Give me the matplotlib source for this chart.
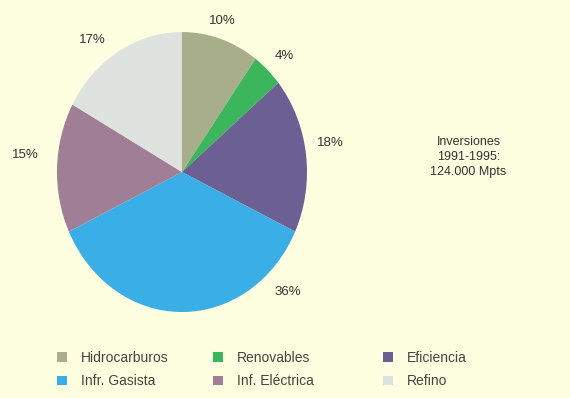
import matplotlib
matplotlib.use("Agg")
import matplotlib.pyplot as plt

plt.rcParams['font.family'] = ['Liberation Sans', 'DejaVu Sans']

categories = ["Hidrocarburos", "Renovables", "Eficiencia", "Infr. Gasista", "Inf. Eléctrica", "Refino"]
shares = [10, 4, 18, 36, 15, 17]
pct_labels = ["10%", "4%", "18%", "36%", "15%", "17%"]
colors = ["#a8ae8a", "#3cb65c", "#6c5f94", "#3aaee6", "#a07f96", "#dfe3e0"]
# where each percent label sits, relative to the pie (radius = 1)
label_pos = [(0.32, 1.08), (0.82, 0.83), (1.19, 0.21), (0.85, -0.86), (-1.25, 0.12), (-0.72, 0.94)]

bg = "#fefee0"
fig = plt.figure(figsize=(5.7, 3.98), dpi=100, facecolor=bg)
ax = fig.add_axes([0.1, 0.216, 0.4386, 0.7035])
ax.set_facecolor(bg)

wedges, _ = ax.pie(shares, colors=colors, startangle=90, counterclock=False,
                   radius=1, wedgeprops=dict(linewidth=0))
ax.set_aspect('auto')
ax.set_xlim(-1, 1)
ax.set_ylim(-1, 1)
ax.axis('off')

for txt, (lx, ly) in zip(pct_labels, label_pos):
    ax.text(lx, ly, txt, ha='center', va='center', fontsize=9.5, color='#333333')

fig.text(0.822, 0.6055, "Inversiones\n1991-1995:\n124.000 Mpts", ha='center', va='center',
         fontsize=9, color='#333333', linespacing=1.3)

# legend: one small legend per column, two rows each
col_x = [0.100, 0.374, 0.672]
for c in range(3):
    idx = [c, c + 3]
    leg = fig.legend([wedges[i] for i in idx], [categories[i] for i in idx],
                     loc='center left', bbox_to_anchor=(col_x[c], 0.0716),
                     frameon=False, fontsize=10, handlelength=0.7, handleheight=0.7,
                     handletextpad=1.0, labelspacing=0.7, borderpad=0, borderaxespad=0)
    for t in leg.get_texts():
        t.set_color('#444444')

fig.savefig("out.png", dpi=100, facecolor=bg)
